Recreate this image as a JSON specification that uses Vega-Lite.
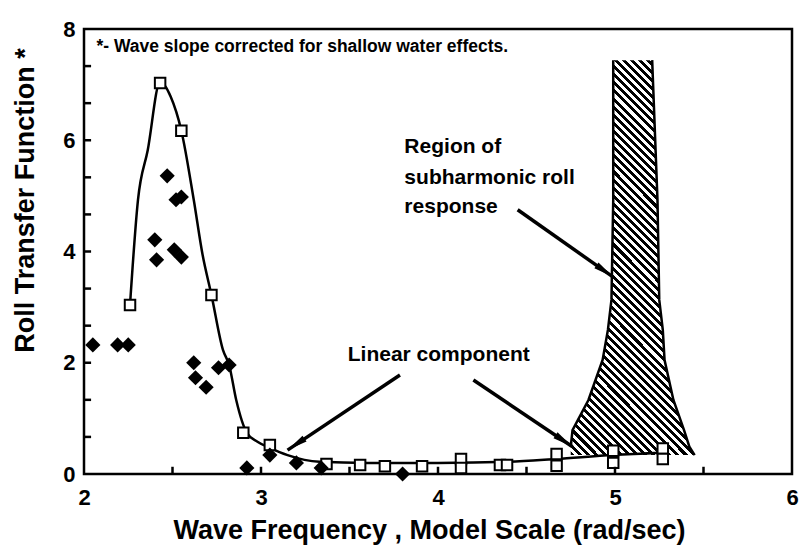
{
"$schema":"https://vega.github.io/schema/vega-lite/v6.json",
"width":708,"height":445,
"autosize":{"type":"none"},
"padding":{"left":84,"top":29,"right":8,"bottom":71},
"background":"white",
"config":{
 "view":{"stroke":"#000","strokeWidth":2.5},
 "font":"Liberation Sans",
 "axis":{"domain":false,"ticks":false,"grid":false,"labelFont":"Liberation Sans","labelFontWeight":"bold","labelFontSize":22,"labelColor":"#000","titleFont":"Liberation Sans","titleFontWeight":"bold","titleFontSize":27,"titleColor":"#000","labelFlush":false,"labelOverlap":false}
},
"datasets":{
 "region":[
  {"y":0.34,"xl":4.75,"xr":5.45},
  {"y":0.49,"xl":4.75,"xr":5.42},
  {"y":0.79,"xl":4.76,"xr":5.39},
  {"y":1.33,"xl":4.85,"xr":5.33},
  {"y":2.05,"xl":4.93,"xr":5.28},
  {"y":2.59,"xl":4.96,"xr":5.27},
  {"y":3.13,"xl":4.98,"xr":5.25},
  {"y":4.93,"xl":4.99,"xr":5.24},
  {"y":7.44,"xl":4.99,"xr":5.21}
 ],
 "curve":[
  {"x":2.26,"y":3.04},{"x":2.305,"y":4.93},{"x":2.36,"y":5.82},{"x":2.43,"y":7.05},{"x":2.49,"y":6.78},{"x":2.55,"y":6.17},{"x":2.62,"y":4.93},{"x":2.67,"y":3.94},{"x":2.72,"y":3.22},{"x":2.785,"y":2.23},{"x":2.82,"y":1.96},{"x":2.86,"y":1.33},{"x":2.92,"y":0.74},{"x":2.98,"y":0.58},{"x":3.05,"y":0.47},{"x":3.15,"y":0.34},{"x":3.33,"y":0.22},{"x":3.6,"y":0.2},{"x":4.0,"y":0.2},{"x":4.4,"y":0.22},{"x":4.67,"y":0.27},{"x":4.99,"y":0.34},{"x":5.27,"y":0.38}
 ],
 "squares":[
  {"x":2.26,"y":3.04},{"x":2.43,"y":7.03},{"x":2.55,"y":6.17},{"x":2.72,"y":3.22},{"x":2.90,"y":0.74},{"x":3.05,"y":0.52},{"x":3.37,"y":0.18},{"x":3.56,"y":0.16},{"x":3.70,"y":0.14},{"x":3.91,"y":0.14},{"x":4.13,"y":0.27},{"x":4.13,"y":0.11},{"x":4.35,"y":0.16},{"x":4.39,"y":0.16},{"x":4.67,"y":0.36},{"x":4.67,"y":0.15},{"x":4.99,"y":0.42},{"x":4.99,"y":0.2},{"x":5.27,"y":0.46},{"x":5.27,"y":0.27}
 ],
 "diamonds":[
  {"x":2.05,"y":2.32},{"x":2.19,"y":2.32},{"x":2.25,"y":2.32},{"x":2.40,"y":4.21},{"x":2.41,"y":3.85},{"x":2.47,"y":5.36},{"x":2.52,"y":4.93},{"x":2.55,"y":4.98},{"x":2.51,"y":4.03},{"x":2.55,"y":3.90},{"x":2.62,"y":2.00},{"x":2.63,"y":1.73},{"x":2.69,"y":1.56},{"x":2.76,"y":1.91},{"x":2.82,"y":1.96},{"x":2.92,"y":0.11},{"x":3.05,"y":0.34},{"x":3.20,"y":0.20},{"x":3.34,"y":0.11},{"x":3.80,"y":0.0}
 ],
 "arrows":[
  {"arrow":"a1","x":3.785,"y":1.78,"x2":3.15,"y2":0.43},
  {"arrow":"a2","x":4.20,"y":1.69,"x2":4.76,"y2":0.49},
  {"arrow":"a3","x":4.45,"y":4.75,"x2":4.99,"y2":3.54}
 ],
 "xticks":[{"v":2.5},{"v":3},{"v":3.5},{"v":4},{"v":4.5},{"v":5},{"v":5.5}],
 "yticks":[{"v":0.6667},{"v":1.3333},{"v":2},{"v":2.6667},{"v":3.3333},{"v":4},{"v":4.6667},{"v":5.3333},{"v":6},{"v":6.6667},{"v":7.3333}],
 "notes":[
  {"x":3.81,"y":5.88,"text":"Region of"},
  {"x":3.81,"y":5.32,"text":"subharmonic roll"},
  {"x":3.81,"y":4.80,"text":"response"},
  {"x":3.49,"y":2.14,"text":"Linear component"}
 ],
 "foot":[{"x":2.07,"y":7.68,"text":"*- Wave slope corrected for shallow water effects."}]
},
"layer":[
 {"data":{"name":"squares"},
  "mark":{"type":"point","shape":"square","filled":true,"size":10,"opacity":0},
  "encoding":{
   "x":{"field":"x","type":"quantitative","scale":{"domain":[2,6],"nice":false,"zero":false},
    "axis":{"title":"Wave Frequency , Model Scale (rad/sec)","values":[2,3,4,5,6],"format":"d","labelOverlap":false,"ticks":false,"labelPadding":13,"titleX":345,"titleY":56,"titleAlign":"center","titleBaseline":"middle"}},
   "y":{"field":"y","type":"quantitative","scale":{"domain":[0,8],"nice":false,"zero":false},
    "axis":{"title":"Roll Transfer Function *","values":[0,2,4,6,8],"format":"d","labelOverlap":false,"ticks":false,"labelPadding":9,"titleX":-59,"titleY":171,"titleAlign":"center","titleBaseline":"middle","titleAngle":-90}}}},
 {"data":{"name":"region"},
  "mark":{"type":"area","orient":"horizontal","strokeWidth":0,
   "fill":{"gradient":"linear","x1":0,"y1":1,"x2":0.376,"y2":-0.196,"stops":[
{"offset":0,"color":"#000"},
{"offset":0.0078,"color":"#000"},{"offset":0.0078,"color":"#fff"},{"offset":0.0156,"color":"#fff"},{"offset":0.0156,"color":"#000"},
{"offset":0.0234,"color":"#000"},{"offset":0.0234,"color":"#fff"},{"offset":0.0313,"color":"#fff"},{"offset":0.0313,"color":"#000"},
{"offset":0.0391,"color":"#000"},{"offset":0.0391,"color":"#fff"},{"offset":0.0469,"color":"#fff"},{"offset":0.0469,"color":"#000"},
{"offset":0.0547,"color":"#000"},{"offset":0.0547,"color":"#fff"},{"offset":0.0625,"color":"#fff"},{"offset":0.0625,"color":"#000"},
{"offset":0.0703,"color":"#000"},{"offset":0.0703,"color":"#fff"},{"offset":0.0781,"color":"#fff"},{"offset":0.0781,"color":"#000"},
{"offset":0.0859,"color":"#000"},{"offset":0.0859,"color":"#fff"},{"offset":0.0938,"color":"#fff"},{"offset":0.0938,"color":"#000"},
{"offset":0.1016,"color":"#000"},{"offset":0.1016,"color":"#fff"},{"offset":0.1094,"color":"#fff"},{"offset":0.1094,"color":"#000"},
{"offset":0.1172,"color":"#000"},{"offset":0.1172,"color":"#fff"},{"offset":0.125,"color":"#fff"},{"offset":0.125,"color":"#000"},
{"offset":0.1328,"color":"#000"},{"offset":0.1328,"color":"#fff"},{"offset":0.1406,"color":"#fff"},{"offset":0.1406,"color":"#000"},
{"offset":0.1484,"color":"#000"},{"offset":0.1484,"color":"#fff"},{"offset":0.1563,"color":"#fff"},{"offset":0.1563,"color":"#000"},
{"offset":0.1641,"color":"#000"},{"offset":0.1641,"color":"#fff"},{"offset":0.1719,"color":"#fff"},{"offset":0.1719,"color":"#000"},
{"offset":0.1797,"color":"#000"},{"offset":0.1797,"color":"#fff"},{"offset":0.1875,"color":"#fff"},{"offset":0.1875,"color":"#000"},
{"offset":0.1953,"color":"#000"},{"offset":0.1953,"color":"#fff"},{"offset":0.2031,"color":"#fff"},{"offset":0.2031,"color":"#000"},
{"offset":0.2109,"color":"#000"},{"offset":0.2109,"color":"#fff"},{"offset":0.2188,"color":"#fff"},{"offset":0.2188,"color":"#000"},
{"offset":0.2266,"color":"#000"},{"offset":0.2266,"color":"#fff"},{"offset":0.2344,"color":"#fff"},{"offset":0.2344,"color":"#000"},
{"offset":0.2422,"color":"#000"},{"offset":0.2422,"color":"#fff"},{"offset":0.25,"color":"#fff"},{"offset":0.25,"color":"#000"},
{"offset":0.2578,"color":"#000"},{"offset":0.2578,"color":"#fff"},{"offset":0.2656,"color":"#fff"},{"offset":0.2656,"color":"#000"},
{"offset":0.2734,"color":"#000"},{"offset":0.2734,"color":"#fff"},{"offset":0.2813,"color":"#fff"},{"offset":0.2813,"color":"#000"},
{"offset":0.2891,"color":"#000"},{"offset":0.2891,"color":"#fff"},{"offset":0.2969,"color":"#fff"},{"offset":0.2969,"color":"#000"},
{"offset":0.3047,"color":"#000"},{"offset":0.3047,"color":"#fff"},{"offset":0.3125,"color":"#fff"},{"offset":0.3125,"color":"#000"},
{"offset":0.3203,"color":"#000"},{"offset":0.3203,"color":"#fff"},{"offset":0.3281,"color":"#fff"},{"offset":0.3281,"color":"#000"},
{"offset":0.3359,"color":"#000"},{"offset":0.3359,"color":"#fff"},{"offset":0.3438,"color":"#fff"},{"offset":0.3438,"color":"#000"},
{"offset":0.3516,"color":"#000"},{"offset":0.3516,"color":"#fff"},{"offset":0.3594,"color":"#fff"},{"offset":0.3594,"color":"#000"},
{"offset":0.3672,"color":"#000"},{"offset":0.3672,"color":"#fff"},{"offset":0.375,"color":"#fff"},{"offset":0.375,"color":"#000"},
{"offset":0.3828,"color":"#000"},{"offset":0.3828,"color":"#fff"},{"offset":0.3906,"color":"#fff"},{"offset":0.3906,"color":"#000"},
{"offset":0.3984,"color":"#000"},{"offset":0.3984,"color":"#fff"},{"offset":0.4063,"color":"#fff"},{"offset":0.4063,"color":"#000"},
{"offset":0.4141,"color":"#000"},{"offset":0.4141,"color":"#fff"},{"offset":0.4219,"color":"#fff"},{"offset":0.4219,"color":"#000"},
{"offset":0.4297,"color":"#000"},{"offset":0.4297,"color":"#fff"},{"offset":0.4375,"color":"#fff"},{"offset":0.4375,"color":"#000"},
{"offset":0.4453,"color":"#000"},{"offset":0.4453,"color":"#fff"},{"offset":0.4531,"color":"#fff"},{"offset":0.4531,"color":"#000"},
{"offset":0.4609,"color":"#000"},{"offset":0.4609,"color":"#fff"},{"offset":0.4688,"color":"#fff"},{"offset":0.4688,"color":"#000"},
{"offset":0.4766,"color":"#000"},{"offset":0.4766,"color":"#fff"},{"offset":0.4844,"color":"#fff"},{"offset":0.4844,"color":"#000"},
{"offset":0.4922,"color":"#000"},{"offset":0.4922,"color":"#fff"},{"offset":0.5,"color":"#fff"},{"offset":0.5,"color":"#000"},
{"offset":0.5078,"color":"#000"},{"offset":0.5078,"color":"#fff"},{"offset":0.5156,"color":"#fff"},{"offset":0.5156,"color":"#000"},
{"offset":0.5234,"color":"#000"},{"offset":0.5234,"color":"#fff"},{"offset":0.5313,"color":"#fff"},{"offset":0.5313,"color":"#000"},
{"offset":0.5391,"color":"#000"},{"offset":0.5391,"color":"#fff"},{"offset":0.5469,"color":"#fff"},{"offset":0.5469,"color":"#000"},
{"offset":0.5547,"color":"#000"},{"offset":0.5547,"color":"#fff"},{"offset":0.5625,"color":"#fff"},{"offset":0.5625,"color":"#000"},
{"offset":0.5703,"color":"#000"},{"offset":0.5703,"color":"#fff"},{"offset":0.5781,"color":"#fff"},{"offset":0.5781,"color":"#000"},
{"offset":0.5859,"color":"#000"},{"offset":0.5859,"color":"#fff"},{"offset":0.5938,"color":"#fff"},{"offset":0.5938,"color":"#000"},
{"offset":0.6016,"color":"#000"},{"offset":0.6016,"color":"#fff"},{"offset":0.6094,"color":"#fff"},{"offset":0.6094,"color":"#000"},
{"offset":0.6172,"color":"#000"},{"offset":0.6172,"color":"#fff"},{"offset":0.625,"color":"#fff"},{"offset":0.625,"color":"#000"},
{"offset":0.6328,"color":"#000"},{"offset":0.6328,"color":"#fff"},{"offset":0.6406,"color":"#fff"},{"offset":0.6406,"color":"#000"},
{"offset":0.6484,"color":"#000"},{"offset":0.6484,"color":"#fff"},{"offset":0.6563,"color":"#fff"},{"offset":0.6563,"color":"#000"},
{"offset":0.6641,"color":"#000"},{"offset":0.6641,"color":"#fff"},{"offset":0.6719,"color":"#fff"},{"offset":0.6719,"color":"#000"},
{"offset":0.6797,"color":"#000"},{"offset":0.6797,"color":"#fff"},{"offset":0.6875,"color":"#fff"},{"offset":0.6875,"color":"#000"},
{"offset":0.6953,"color":"#000"},{"offset":0.6953,"color":"#fff"},{"offset":0.7031,"color":"#fff"},{"offset":0.7031,"color":"#000"},
{"offset":0.7109,"color":"#000"},{"offset":0.7109,"color":"#fff"},{"offset":0.7188,"color":"#fff"},{"offset":0.7188,"color":"#000"},
{"offset":0.7266,"color":"#000"},{"offset":0.7266,"color":"#fff"},{"offset":0.7344,"color":"#fff"},{"offset":0.7344,"color":"#000"},
{"offset":0.7422,"color":"#000"},{"offset":0.7422,"color":"#fff"},{"offset":0.75,"color":"#fff"},{"offset":0.75,"color":"#000"},
{"offset":0.7578,"color":"#000"},{"offset":0.7578,"color":"#fff"},{"offset":0.7656,"color":"#fff"},{"offset":0.7656,"color":"#000"},
{"offset":0.7734,"color":"#000"},{"offset":0.7734,"color":"#fff"},{"offset":0.7813,"color":"#fff"},{"offset":0.7813,"color":"#000"},
{"offset":0.7891,"color":"#000"},{"offset":0.7891,"color":"#fff"},{"offset":0.7969,"color":"#fff"},{"offset":0.7969,"color":"#000"},
{"offset":0.8047,"color":"#000"},{"offset":0.8047,"color":"#fff"},{"offset":0.8125,"color":"#fff"},{"offset":0.8125,"color":"#000"},
{"offset":0.8203,"color":"#000"},{"offset":0.8203,"color":"#fff"},{"offset":0.8281,"color":"#fff"},{"offset":0.8281,"color":"#000"},
{"offset":0.8359,"color":"#000"},{"offset":0.8359,"color":"#fff"},{"offset":0.8438,"color":"#fff"},{"offset":0.8438,"color":"#000"},
{"offset":0.8516,"color":"#000"},{"offset":0.8516,"color":"#fff"},{"offset":0.8594,"color":"#fff"},{"offset":0.8594,"color":"#000"},
{"offset":0.8672,"color":"#000"},{"offset":0.8672,"color":"#fff"},{"offset":0.875,"color":"#fff"},{"offset":0.875,"color":"#000"},
{"offset":0.8828,"color":"#000"},{"offset":0.8828,"color":"#fff"},{"offset":0.8906,"color":"#fff"},{"offset":0.8906,"color":"#000"},
{"offset":0.8984,"color":"#000"},{"offset":0.8984,"color":"#fff"},{"offset":0.9063,"color":"#fff"},{"offset":0.9063,"color":"#000"},
{"offset":0.9141,"color":"#000"},{"offset":0.9141,"color":"#fff"},{"offset":0.9219,"color":"#fff"},{"offset":0.9219,"color":"#000"},
{"offset":0.9297,"color":"#000"},{"offset":0.9297,"color":"#fff"},{"offset":0.9375,"color":"#fff"},{"offset":0.9375,"color":"#000"},
{"offset":0.9453,"color":"#000"},{"offset":0.9453,"color":"#fff"},{"offset":0.9531,"color":"#fff"},{"offset":0.9531,"color":"#000"},
{"offset":0.9609,"color":"#000"},{"offset":0.9609,"color":"#fff"},{"offset":0.9688,"color":"#fff"},{"offset":0.9688,"color":"#000"},
{"offset":0.9766,"color":"#000"},{"offset":0.9766,"color":"#fff"},{"offset":0.9844,"color":"#fff"},{"offset":0.9844,"color":"#000"},
{"offset":0.9922,"color":"#000"},{"offset":0.9922,"color":"#fff"},{"offset":1,"color":"#fff"}
   ]}},
  "encoding":{
   "y":{"field":"y","type":"quantitative"},
   "x":{"field":"xl","type":"quantitative"},
   "x2":{"field":"xr"}
  }},
 {"data":{"name":"region"},"transform":[{"filter":"datum.y > 0.4"}],
  "mark":{"type":"line","color":"#000","strokeWidth":2.5},
  "encoding":{"x":{"field":"xl","type":"quantitative"},"y":{"field":"y","type":"quantitative"},"order":{"field":"y"}}},
 {"data":{"name":"region"},
  "mark":{"type":"line","color":"#000","strokeWidth":2.5},
  "encoding":{"x":{"field":"xr","type":"quantitative"},"y":{"field":"y","type":"quantitative"},"order":{"field":"y"}}},
 {"data":{"name":"curve"},
  "mark":{"type":"line","color":"#000","strokeWidth":2.5,"interpolate":"monotone"},
  "encoding":{"x":{"field":"x","type":"quantitative"},"y":{"field":"y","type":"quantitative"}}},
 {"data":{"name":"squares"},
  "mark":{"type":"point","shape":"square","filled":true,"fill":"#fff","stroke":"#000","strokeWidth":2,"size":110,"opacity":1},
  "encoding":{"x":{"field":"x","type":"quantitative"},"y":{"field":"y","type":"quantitative"}}},
 {"data":{"name":"diamonds"},
  "mark":{"type":"point","shape":"diamond","filled":true,"fill":"#000","size":230,"opacity":1},
  "encoding":{"x":{"field":"x","type":"quantitative"},"y":{"field":"y","type":"quantitative"}}},
 {"data":{"name":"arrows"},
  "mark":{"type":"rule","color":"#000","strokeWidth":3.5},
  "encoding":{"x":{"field":"x","type":"quantitative"},"y":{"field":"y","type":"quantitative"},"x2":{"field":"x2"},"y2":{"field":"y2"}}},
 {"data":{"name":"arrows"},"transform":[{"filter":"datum.arrow == 'a1'"}],
  "mark":{"type":"point","shape":"M0,0L-2,-0.35L-2,0.35Z","filled":true,"fill":"#000","size":420,"opacity":1,"angle":146},
  "encoding":{"x":{"field":"x2","type":"quantitative"},"y":{"field":"y2","type":"quantitative"}}},
 {"data":{"name":"arrows"},"transform":[{"filter":"datum.arrow == 'a2'"}],
  "mark":{"type":"point","shape":"M0,0L-2,-0.35L-2,0.35Z","filled":true,"fill":"#000","size":420,"opacity":1,"angle":34},
  "encoding":{"x":{"field":"x2","type":"quantitative"},"y":{"field":"y2","type":"quantitative"}}},
 {"data":{"name":"arrows"},"transform":[{"filter":"datum.arrow == 'a3'"}],
  "mark":{"type":"point","shape":"M0,0L-2,-0.35L-2,0.35Z","filled":true,"fill":"#000","size":420,"opacity":1,"angle":35},
  "encoding":{"x":{"field":"x2","type":"quantitative"},"y":{"field":"y2","type":"quantitative"}}},
 {"data":{"name":"xticks"},
  "mark":{"type":"rule","color":"#000","strokeWidth":2.5},
  "encoding":{"x":{"field":"v","type":"quantitative"},"y":{"datum":0,"type":"quantitative"},"y2":{"datum":0.13}}},
 {"data":{"name":"yticks"},
  "mark":{"type":"rule","color":"#000","strokeWidth":2.5},
  "encoding":{"y":{"field":"v","type":"quantitative"},"x":{"datum":2,"type":"quantitative"},"x2":{"datum":2.04}}},
 {"data":{"name":"notes"},
  "mark":{"type":"text","align":"left","baseline":"middle","font":"Liberation Sans","fontWeight":"bold","fontSize":21,"color":"#000"},
  "encoding":{"x":{"field":"x","type":"quantitative"},"y":{"field":"y","type":"quantitative"},"text":{"field":"text"}}},
 {"data":{"name":"foot"},
  "mark":{"type":"text","align":"left","baseline":"middle","font":"Liberation Sans","fontWeight":"bold","fontSize":17.5,"color":"#000"},
  "encoding":{"x":{"field":"x","type":"quantitative"},"y":{"field":"y","type":"quantitative"},"text":{"field":"text"}}}
]
}
